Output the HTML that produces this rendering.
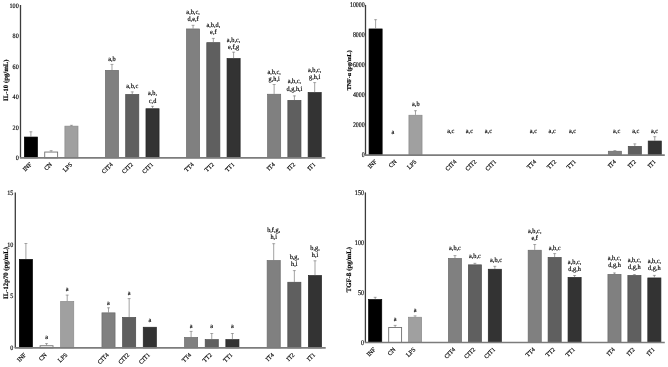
<!DOCTYPE html>
<html><head><meta charset="utf-8"><title>Cytokines</title>
<style>
html,body{margin:0;padding:0;background:#fff;}
body{width:668px;height:367px;overflow:hidden;}
svg{display:block;filter:blur(0.35px);}
text{font-family:"Liberation Serif",serif;text-rendering:geometricPrecision;fill:#000;stroke:#000;stroke-width:0.16px;}
</style></head><body>
<svg width="668" height="367" viewBox="0 0 668 367">
<rect width="668" height="367" fill="#fff"/>
<rect x="24.35" y="137.05" width="13.10" height="20.80" fill="#000000" stroke="#000000" stroke-width="0.7"/>
<line x1="30.90" y1="131.50" x2="30.90" y2="136.70" stroke="#7a7a7a" stroke-width="0.7"/>
<line x1="29.40" y1="131.80" x2="32.40" y2="131.80" stroke="#7a7a7a" stroke-width="0.6"/>
<text transform="translate(32.10,164.85) rotate(-45)" font-size="6.1" text-anchor="end">INF</text>
<rect x="44.72" y="152.05" width="12.90" height="5.80" fill="#fff" stroke="#707070" stroke-width="0.9"/>
<line x1="51.17" y1="150.40" x2="51.17" y2="151.60" stroke="#7a7a7a" stroke-width="0.7"/>
<line x1="49.67" y1="150.70" x2="52.67" y2="150.70" stroke="#7a7a7a" stroke-width="0.6"/>
<text transform="translate(52.37,164.85) rotate(-45)" font-size="6.1" text-anchor="end">CN</text>
<rect x="64.89" y="126.15" width="13.10" height="31.70" fill="#a0a0a0" stroke="#8a8a8a" stroke-width="0.7"/>
<line x1="71.44" y1="125.00" x2="71.44" y2="125.80" stroke="#7a7a7a" stroke-width="0.7"/>
<line x1="69.94" y1="125.30" x2="72.94" y2="125.30" stroke="#7a7a7a" stroke-width="0.6"/>
<text transform="translate(72.64,164.85) rotate(-45)" font-size="6.1" text-anchor="end">LPS</text>
<rect x="105.43" y="70.35" width="13.10" height="87.50" fill="#808080" stroke="#6a6a6a" stroke-width="0.7"/>
<line x1="111.98" y1="64.10" x2="111.98" y2="70.00" stroke="#7a7a7a" stroke-width="0.7"/>
<line x1="110.48" y1="64.40" x2="113.48" y2="64.40" stroke="#7a7a7a" stroke-width="0.6"/>
<text transform="translate(111.98,60.50) scale(0.92,1)" font-size="6.85" text-anchor="middle" >a,b</text>
<text transform="translate(113.18,164.85) rotate(-45)" font-size="6.1" text-anchor="end">CIT4</text>
<rect x="125.70" y="94.45" width="13.10" height="63.40" fill="#5f5f5f" stroke="#4c4c4c" stroke-width="0.7"/>
<line x1="132.25" y1="91.60" x2="132.25" y2="94.10" stroke="#7a7a7a" stroke-width="0.7"/>
<line x1="130.75" y1="91.90" x2="133.75" y2="91.90" stroke="#7a7a7a" stroke-width="0.6"/>
<text transform="translate(132.25,87.60) scale(0.92,1)" font-size="6.85" text-anchor="middle" >a,b,c</text>
<text transform="translate(133.45,164.85) rotate(-45)" font-size="6.1" text-anchor="end">CIT2</text>
<rect x="145.97" y="108.75" width="13.10" height="49.10" fill="#333333" stroke="#262626" stroke-width="0.7"/>
<line x1="152.52" y1="106.00" x2="152.52" y2="108.40" stroke="#7a7a7a" stroke-width="0.7"/>
<line x1="151.02" y1="106.30" x2="154.02" y2="106.30" stroke="#7a7a7a" stroke-width="0.6"/>
<text transform="translate(152.52,95.40) scale(0.92,1)" font-size="6.85" text-anchor="middle" >a,b,</text>
<text transform="translate(152.52,103.40) scale(0.92,1)" font-size="6.85" text-anchor="middle" >c,d</text>
<text transform="translate(153.72,164.85) rotate(-45)" font-size="6.1" text-anchor="end">CIT1</text>
<rect x="186.51" y="28.95" width="13.10" height="128.90" fill="#808080" stroke="#6a6a6a" stroke-width="0.7"/>
<line x1="193.06" y1="25.00" x2="193.06" y2="28.60" stroke="#7a7a7a" stroke-width="0.7"/>
<line x1="191.56" y1="25.30" x2="194.56" y2="25.30" stroke="#7a7a7a" stroke-width="0.6"/>
<text transform="translate(193.06,13.70) scale(0.92,1)" font-size="6.85" text-anchor="middle" >a,b,c,</text>
<text transform="translate(193.06,20.90) scale(0.92,1)" font-size="6.85" text-anchor="middle" >d,e,f</text>
<text transform="translate(194.26,164.85) rotate(-45)" font-size="6.1" text-anchor="end">TT4</text>
<rect x="206.78" y="42.65" width="13.10" height="115.20" fill="#5f5f5f" stroke="#4c4c4c" stroke-width="0.7"/>
<line x1="213.33" y1="38.10" x2="213.33" y2="42.30" stroke="#7a7a7a" stroke-width="0.7"/>
<line x1="211.83" y1="38.40" x2="214.83" y2="38.40" stroke="#7a7a7a" stroke-width="0.6"/>
<text transform="translate(213.33,26.90) scale(0.92,1)" font-size="6.85" text-anchor="middle" >a,b,d,</text>
<text transform="translate(213.33,34.30) scale(0.92,1)" font-size="6.85" text-anchor="middle" >e,f</text>
<text transform="translate(214.53,164.85) rotate(-45)" font-size="6.1" text-anchor="end">TT2</text>
<rect x="227.05" y="58.55" width="13.10" height="99.30" fill="#333333" stroke="#262626" stroke-width="0.7"/>
<line x1="233.60" y1="51.90" x2="233.60" y2="58.20" stroke="#7a7a7a" stroke-width="0.7"/>
<line x1="232.10" y1="52.20" x2="235.10" y2="52.20" stroke="#7a7a7a" stroke-width="0.6"/>
<text transform="translate(233.60,41.60) scale(0.92,1)" font-size="6.85" text-anchor="middle" >a,b,c,</text>
<text transform="translate(233.60,48.80) scale(0.92,1)" font-size="6.85" text-anchor="middle" >e,f,g</text>
<text transform="translate(234.80,164.85) rotate(-45)" font-size="6.1" text-anchor="end">TT1</text>
<rect x="267.59" y="94.25" width="13.10" height="63.60" fill="#808080" stroke="#6a6a6a" stroke-width="0.7"/>
<line x1="274.14" y1="84.20" x2="274.14" y2="93.90" stroke="#7a7a7a" stroke-width="0.7"/>
<line x1="272.64" y1="84.50" x2="275.64" y2="84.50" stroke="#7a7a7a" stroke-width="0.6"/>
<text transform="translate(274.14,73.50) scale(0.92,1)" font-size="6.85" text-anchor="middle" >a,b,c,</text>
<text transform="translate(274.14,80.70) scale(0.92,1)" font-size="6.85" text-anchor="middle" >g,h,i</text>
<text transform="translate(275.34,164.85) rotate(-45)" font-size="6.1" text-anchor="end">IT4</text>
<rect x="287.86" y="100.35" width="13.10" height="57.50" fill="#5f5f5f" stroke="#4c4c4c" stroke-width="0.7"/>
<line x1="294.41" y1="95.60" x2="294.41" y2="100.00" stroke="#7a7a7a" stroke-width="0.7"/>
<line x1="292.91" y1="95.90" x2="295.91" y2="95.90" stroke="#7a7a7a" stroke-width="0.6"/>
<text transform="translate(294.41,83.20) scale(0.92,1)" font-size="6.85" text-anchor="middle" >a,b,c,</text>
<text transform="translate(294.41,90.60) scale(0.92,1)" font-size="6.85" text-anchor="middle" >d,g,h,i</text>
<text transform="translate(295.61,164.85) rotate(-45)" font-size="6.1" text-anchor="end">IT2</text>
<rect x="308.13" y="92.55" width="13.10" height="65.30" fill="#333333" stroke="#262626" stroke-width="0.7"/>
<line x1="314.68" y1="82.30" x2="314.68" y2="92.20" stroke="#7a7a7a" stroke-width="0.7"/>
<line x1="313.18" y1="82.60" x2="316.18" y2="82.60" stroke="#7a7a7a" stroke-width="0.6"/>
<text transform="translate(314.68,71.80) scale(0.92,1)" font-size="6.85" text-anchor="middle" >a,b,c,</text>
<text transform="translate(314.68,79.20) scale(0.92,1)" font-size="6.85" text-anchor="middle" >g,h,i</text>
<text transform="translate(315.88,164.85) rotate(-45)" font-size="6.1" text-anchor="end">IT1</text>
<line x1="20.50" y1="5.00" x2="20.50" y2="157.85" stroke="#3c3c3c" stroke-width="1.3"/>
<line x1="19.90" y1="157.85" x2="325.30" y2="157.85" stroke="#7c7c7c" stroke-width="1.6"/>
<text transform="translate(18.70,160.13) scale(0.9,1)" font-size="6.8" text-anchor="end">0</text>
<text transform="translate(18.70,129.67) scale(0.9,1)" font-size="6.8" text-anchor="end">20</text>
<text transform="translate(18.70,99.21) scale(0.9,1)" font-size="6.8" text-anchor="end">40</text>
<text transform="translate(18.70,68.75) scale(0.9,1)" font-size="6.8" text-anchor="end">60</text>
<text transform="translate(18.70,38.29) scale(0.9,1)" font-size="6.8" text-anchor="end">80</text>
<text transform="translate(18.70,7.83) scale(0.9,1)" font-size="6.8" text-anchor="end">100</text>
<text transform="translate(6.60,80.20) rotate(-90)" font-size="6.75" font-weight="bold" text-anchor="middle" dominant-baseline="central">IL-10 (pg/mL)</text>
<rect x="369.05" y="28.95" width="13.10" height="126.15" fill="#000000" stroke="#000000" stroke-width="0.7"/>
<line x1="375.60" y1="19.40" x2="375.60" y2="28.60" stroke="#7a7a7a" stroke-width="0.7"/>
<line x1="374.10" y1="19.70" x2="377.10" y2="19.70" stroke="#7a7a7a" stroke-width="0.6"/>
<text transform="translate(377.10,162.10) rotate(-45)" font-size="6.1" text-anchor="end">INF</text>
<text transform="translate(393.00,134.30) scale(0.92,1)" font-size="6.85" text-anchor="middle" >a</text>
<text transform="translate(397.04,162.10) rotate(-45)" font-size="6.1" text-anchor="end">CN</text>
<rect x="408.93" y="115.25" width="13.10" height="39.85" fill="#a0a0a0" stroke="#8a8a8a" stroke-width="0.7"/>
<line x1="415.48" y1="110.40" x2="415.48" y2="114.90" stroke="#7a7a7a" stroke-width="0.7"/>
<line x1="413.98" y1="110.70" x2="416.98" y2="110.70" stroke="#7a7a7a" stroke-width="0.6"/>
<text transform="translate(415.80,105.50) scale(0.92,1)" font-size="6.85" text-anchor="middle" >a,b</text>
<text transform="translate(416.98,162.10) rotate(-45)" font-size="6.1" text-anchor="end">LPS</text>
<text transform="translate(450.80,132.50) scale(0.92,1)" font-size="6.85" text-anchor="middle" >a,c</text>
<text transform="translate(456.86,162.10) rotate(-45)" font-size="6.1" text-anchor="end">CIT4</text>
<text transform="translate(469.40,132.50) scale(0.92,1)" font-size="6.85" text-anchor="middle" >a,c</text>
<text transform="translate(476.80,162.10) rotate(-45)" font-size="6.1" text-anchor="end">CIT2</text>
<text transform="translate(488.40,132.50) scale(0.92,1)" font-size="6.85" text-anchor="middle" >a,c</text>
<text transform="translate(496.74,162.10) rotate(-45)" font-size="6.1" text-anchor="end">CIT1</text>
<text transform="translate(533.40,132.50) scale(0.92,1)" font-size="6.85" text-anchor="middle" >a,c</text>
<text transform="translate(536.62,162.10) rotate(-45)" font-size="6.1" text-anchor="end">TT4</text>
<text transform="translate(552.20,132.50) scale(0.92,1)" font-size="6.85" text-anchor="middle" >a,c</text>
<text transform="translate(556.56,162.10) rotate(-45)" font-size="6.1" text-anchor="end">TT2</text>
<text transform="translate(572.50,132.50) scale(0.92,1)" font-size="6.85" text-anchor="middle" >a,c</text>
<text transform="translate(576.50,162.10) rotate(-45)" font-size="6.1" text-anchor="end">TT1</text>
<rect x="608.33" y="151.25" width="13.10" height="3.85" fill="#808080" stroke="#6a6a6a" stroke-width="0.7"/>
<line x1="614.88" y1="150.30" x2="614.88" y2="150.90" stroke="#7a7a7a" stroke-width="0.7"/>
<line x1="613.38" y1="150.60" x2="616.38" y2="150.60" stroke="#7a7a7a" stroke-width="0.6"/>
<text transform="translate(616.70,132.50) scale(0.92,1)" font-size="6.85" text-anchor="middle" >a,c</text>
<text transform="translate(616.38,162.10) rotate(-45)" font-size="6.1" text-anchor="end">IT4</text>
<rect x="628.27" y="146.35" width="13.10" height="8.75" fill="#5f5f5f" stroke="#4c4c4c" stroke-width="0.7"/>
<line x1="634.82" y1="143.60" x2="634.82" y2="146.00" stroke="#7a7a7a" stroke-width="0.7"/>
<line x1="633.32" y1="143.90" x2="636.32" y2="143.90" stroke="#7a7a7a" stroke-width="0.6"/>
<text transform="translate(635.80,132.50) scale(0.92,1)" font-size="6.85" text-anchor="middle" >a,c</text>
<text transform="translate(636.32,162.10) rotate(-45)" font-size="6.1" text-anchor="end">IT2</text>
<rect x="648.21" y="141.05" width="13.10" height="14.05" fill="#333333" stroke="#262626" stroke-width="0.7"/>
<line x1="654.76" y1="136.40" x2="654.76" y2="140.70" stroke="#7a7a7a" stroke-width="0.7"/>
<line x1="653.26" y1="136.70" x2="656.26" y2="136.70" stroke="#7a7a7a" stroke-width="0.6"/>
<text transform="translate(654.50,132.50) scale(0.92,1)" font-size="6.85" text-anchor="middle" >a,c</text>
<text transform="translate(656.26,162.10) rotate(-45)" font-size="6.1" text-anchor="end">IT1</text>
<line x1="365.50" y1="4.90" x2="365.50" y2="155.10" stroke="#3c3c3c" stroke-width="1.3"/>
<line x1="364.90" y1="155.10" x2="664.80" y2="155.10" stroke="#7c7c7c" stroke-width="1.6"/>
<text transform="translate(364.70,157.48) scale(0.83,1)" font-size="7.1" text-anchor="end">0</text>
<text transform="translate(364.70,127.44) scale(0.83,1)" font-size="7.1" text-anchor="end">2000</text>
<text transform="translate(364.70,97.40) scale(0.83,1)" font-size="7.1" text-anchor="end">4000</text>
<text transform="translate(364.70,67.36) scale(0.83,1)" font-size="7.1" text-anchor="end">6000</text>
<text transform="translate(364.70,37.32) scale(0.83,1)" font-size="7.1" text-anchor="end">8000</text>
<text transform="translate(364.70,7.28) scale(0.83,1)" font-size="7.1" text-anchor="end">10000</text>
<text transform="translate(349.80,70.30) rotate(-90)" font-size="6.0" font-weight="bold" text-anchor="middle" dominant-baseline="central">TNF-α (pg/mL)</text>
<rect x="19.35" y="259.45" width="13.10" height="88.45" fill="#000000" stroke="#000000" stroke-width="0.7"/>
<line x1="25.90" y1="243.20" x2="25.90" y2="259.10" stroke="#7a7a7a" stroke-width="0.7"/>
<line x1="24.40" y1="243.50" x2="27.40" y2="243.50" stroke="#7a7a7a" stroke-width="0.6"/>
<text transform="translate(26.50,355.30) rotate(-45)" font-size="6.1" text-anchor="end">INF</text>
<rect x="40.10" y="345.75" width="12.90" height="2.15" fill="#fff" stroke="#707070" stroke-width="0.9"/>
<line x1="46.55" y1="343.30" x2="46.55" y2="345.30" stroke="#7a7a7a" stroke-width="0.7"/>
<line x1="45.05" y1="343.60" x2="48.05" y2="343.60" stroke="#7a7a7a" stroke-width="0.6"/>
<text transform="translate(46.55,339.40) scale(0.92,1)" font-size="6.85" text-anchor="middle" >a</text>
<text transform="translate(47.15,355.30) rotate(-45)" font-size="6.1" text-anchor="end">CN</text>
<rect x="60.65" y="301.45" width="13.10" height="46.45" fill="#a0a0a0" stroke="#8a8a8a" stroke-width="0.7"/>
<line x1="67.20" y1="294.80" x2="67.20" y2="301.10" stroke="#7a7a7a" stroke-width="0.7"/>
<line x1="65.70" y1="295.10" x2="68.70" y2="295.10" stroke="#7a7a7a" stroke-width="0.6"/>
<text transform="translate(67.20,291.10) scale(0.92,1)" font-size="6.85" text-anchor="middle" >a</text>
<text transform="translate(67.80,355.30) rotate(-45)" font-size="6.1" text-anchor="end">LPS</text>
<rect x="101.95" y="312.85" width="13.10" height="35.05" fill="#808080" stroke="#6a6a6a" stroke-width="0.7"/>
<line x1="108.50" y1="307.50" x2="108.50" y2="312.50" stroke="#7a7a7a" stroke-width="0.7"/>
<line x1="107.00" y1="307.80" x2="110.00" y2="307.80" stroke="#7a7a7a" stroke-width="0.6"/>
<text transform="translate(108.50,304.50) scale(0.92,1)" font-size="6.85" text-anchor="middle" >a</text>
<text transform="translate(109.10,355.30) rotate(-45)" font-size="6.1" text-anchor="end">CIT4</text>
<rect x="122.60" y="317.45" width="13.10" height="30.45" fill="#5f5f5f" stroke="#4c4c4c" stroke-width="0.7"/>
<line x1="129.15" y1="298.30" x2="129.15" y2="317.10" stroke="#7a7a7a" stroke-width="0.7"/>
<line x1="127.65" y1="298.60" x2="130.65" y2="298.60" stroke="#7a7a7a" stroke-width="0.6"/>
<text transform="translate(129.15,294.50) scale(0.92,1)" font-size="6.85" text-anchor="middle" >a</text>
<text transform="translate(129.75,355.30) rotate(-45)" font-size="6.1" text-anchor="end">CIT2</text>
<rect x="143.25" y="327.25" width="13.10" height="20.65" fill="#333333" stroke="#262626" stroke-width="0.7"/>
<text transform="translate(149.80,321.90) scale(0.92,1)" font-size="6.85" text-anchor="middle" >a</text>
<text transform="translate(150.40,355.30) rotate(-45)" font-size="6.1" text-anchor="end">CIT1</text>
<rect x="184.55" y="337.45" width="13.10" height="10.45" fill="#808080" stroke="#6a6a6a" stroke-width="0.7"/>
<line x1="191.10" y1="331.10" x2="191.10" y2="337.10" stroke="#7a7a7a" stroke-width="0.7"/>
<line x1="189.60" y1="331.40" x2="192.60" y2="331.40" stroke="#7a7a7a" stroke-width="0.6"/>
<text transform="translate(191.10,328.00) scale(0.92,1)" font-size="6.85" text-anchor="middle" >a</text>
<text transform="translate(191.70,355.30) rotate(-45)" font-size="6.1" text-anchor="end">TT4</text>
<rect x="205.20" y="339.65" width="13.10" height="8.25" fill="#5f5f5f" stroke="#4c4c4c" stroke-width="0.7"/>
<line x1="211.75" y1="333.20" x2="211.75" y2="339.30" stroke="#7a7a7a" stroke-width="0.7"/>
<line x1="210.25" y1="333.50" x2="213.25" y2="333.50" stroke="#7a7a7a" stroke-width="0.6"/>
<text transform="translate(211.75,328.00) scale(0.92,1)" font-size="6.85" text-anchor="middle" >a</text>
<text transform="translate(212.35,355.30) rotate(-45)" font-size="6.1" text-anchor="end">TT2</text>
<rect x="225.85" y="339.65" width="13.10" height="8.25" fill="#333333" stroke="#262626" stroke-width="0.7"/>
<line x1="232.40" y1="333.20" x2="232.40" y2="339.30" stroke="#7a7a7a" stroke-width="0.7"/>
<line x1="230.90" y1="333.50" x2="233.90" y2="333.50" stroke="#7a7a7a" stroke-width="0.6"/>
<text transform="translate(232.40,328.00) scale(0.92,1)" font-size="6.85" text-anchor="middle" >a</text>
<text transform="translate(233.00,355.30) rotate(-45)" font-size="6.1" text-anchor="end">TT1</text>
<rect x="267.15" y="260.55" width="13.10" height="87.35" fill="#808080" stroke="#6a6a6a" stroke-width="0.7"/>
<line x1="273.70" y1="243.40" x2="273.70" y2="260.20" stroke="#7a7a7a" stroke-width="0.7"/>
<line x1="272.20" y1="243.70" x2="275.20" y2="243.70" stroke="#7a7a7a" stroke-width="0.6"/>
<text transform="translate(273.70,232.20) scale(0.92,1)" font-size="6.85" text-anchor="middle" >b,f,g,</text>
<text transform="translate(273.70,239.10) scale(0.92,1)" font-size="6.85" text-anchor="middle" >h,i</text>
<text transform="translate(274.30,355.30) rotate(-45)" font-size="6.1" text-anchor="end">IT4</text>
<rect x="287.80" y="282.25" width="13.10" height="65.65" fill="#5f5f5f" stroke="#4c4c4c" stroke-width="0.7"/>
<line x1="294.35" y1="270.30" x2="294.35" y2="281.90" stroke="#7a7a7a" stroke-width="0.7"/>
<line x1="292.85" y1="270.60" x2="295.85" y2="270.60" stroke="#7a7a7a" stroke-width="0.6"/>
<text transform="translate(294.35,259.10) scale(0.92,1)" font-size="6.85" text-anchor="middle" >b,g,</text>
<text transform="translate(294.35,266.40) scale(0.92,1)" font-size="6.85" text-anchor="middle" >h,i</text>
<text transform="translate(294.95,355.30) rotate(-45)" font-size="6.1" text-anchor="end">IT2</text>
<rect x="308.45" y="275.55" width="13.10" height="72.35" fill="#333333" stroke="#262626" stroke-width="0.7"/>
<line x1="315.00" y1="260.50" x2="315.00" y2="275.20" stroke="#7a7a7a" stroke-width="0.7"/>
<line x1="313.50" y1="260.80" x2="316.50" y2="260.80" stroke="#7a7a7a" stroke-width="0.6"/>
<text transform="translate(315.00,249.60) scale(0.92,1)" font-size="6.85" text-anchor="middle" >b,g,</text>
<text transform="translate(315.00,256.80) scale(0.92,1)" font-size="6.85" text-anchor="middle" >h,i</text>
<text transform="translate(315.60,355.30) rotate(-45)" font-size="6.1" text-anchor="end">IT1</text>
<line x1="15.30" y1="192.40" x2="15.30" y2="347.90" stroke="#3c3c3c" stroke-width="1.3"/>
<line x1="14.70" y1="347.90" x2="325.70" y2="347.90" stroke="#7c7c7c" stroke-width="1.6"/>
<text transform="translate(13.40,350.18) scale(0.9,1)" font-size="6.8" text-anchor="end">0</text>
<text transform="translate(13.40,298.43) scale(0.9,1)" font-size="6.8" text-anchor="end">5</text>
<text transform="translate(13.40,246.68) scale(0.9,1)" font-size="6.8" text-anchor="end">10</text>
<text transform="translate(13.40,194.93) scale(0.9,1)" font-size="6.8" text-anchor="end">15</text>
<text transform="translate(6.50,273.00) rotate(-90)" font-size="6.75" font-weight="bold" text-anchor="middle" dominant-baseline="central">IL-12p70 (pg/mL)</text>
<rect x="368.65" y="299.55" width="13.10" height="42.95" fill="#000000" stroke="#000000" stroke-width="0.7"/>
<line x1="375.20" y1="297.00" x2="375.20" y2="299.20" stroke="#7a7a7a" stroke-width="0.7"/>
<line x1="373.70" y1="297.30" x2="376.70" y2="297.30" stroke="#7a7a7a" stroke-width="0.6"/>
<text transform="translate(376.00,349.90) rotate(-45)" font-size="6.1" text-anchor="end">INF</text>
<rect x="388.69" y="327.55" width="12.90" height="14.95" fill="#fff" stroke="#707070" stroke-width="0.9"/>
<line x1="395.14" y1="325.10" x2="395.14" y2="327.10" stroke="#7a7a7a" stroke-width="0.7"/>
<line x1="393.64" y1="325.40" x2="396.64" y2="325.40" stroke="#7a7a7a" stroke-width="0.6"/>
<text transform="translate(395.14,321.40) scale(0.92,1)" font-size="6.85" text-anchor="middle" >a</text>
<text transform="translate(395.94,349.90) rotate(-45)" font-size="6.1" text-anchor="end">CN</text>
<rect x="408.53" y="317.25" width="13.10" height="25.25" fill="#a0a0a0" stroke="#8a8a8a" stroke-width="0.7"/>
<line x1="415.08" y1="315.60" x2="415.08" y2="316.90" stroke="#7a7a7a" stroke-width="0.7"/>
<line x1="413.58" y1="315.90" x2="416.58" y2="315.90" stroke="#7a7a7a" stroke-width="0.6"/>
<text transform="translate(415.08,311.80) scale(0.92,1)" font-size="6.85" text-anchor="middle" >a</text>
<text transform="translate(415.88,349.90) rotate(-45)" font-size="6.1" text-anchor="end">LPS</text>
<rect x="448.41" y="258.45" width="13.10" height="84.05" fill="#808080" stroke="#6a6a6a" stroke-width="0.7"/>
<line x1="454.96" y1="255.30" x2="454.96" y2="258.10" stroke="#7a7a7a" stroke-width="0.7"/>
<line x1="453.46" y1="255.60" x2="456.46" y2="255.60" stroke="#7a7a7a" stroke-width="0.6"/>
<text transform="translate(454.96,250.10) scale(0.92,1)" font-size="6.85" text-anchor="middle" >a,b,c</text>
<text transform="translate(455.76,349.90) rotate(-45)" font-size="6.1" text-anchor="end">CIT4</text>
<rect x="468.35" y="264.85" width="13.10" height="77.65" fill="#5f5f5f" stroke="#4c4c4c" stroke-width="0.7"/>
<line x1="474.90" y1="263.00" x2="474.90" y2="264.50" stroke="#7a7a7a" stroke-width="0.7"/>
<line x1="473.40" y1="263.30" x2="476.40" y2="263.30" stroke="#7a7a7a" stroke-width="0.6"/>
<text transform="translate(474.90,257.50) scale(0.92,1)" font-size="6.85" text-anchor="middle" >a,b,c</text>
<text transform="translate(475.70,349.90) rotate(-45)" font-size="6.1" text-anchor="end">CIT2</text>
<rect x="488.29" y="269.25" width="13.10" height="73.25" fill="#333333" stroke="#262626" stroke-width="0.7"/>
<line x1="494.84" y1="266.00" x2="494.84" y2="268.90" stroke="#7a7a7a" stroke-width="0.7"/>
<line x1="493.34" y1="266.30" x2="496.34" y2="266.30" stroke="#7a7a7a" stroke-width="0.6"/>
<text transform="translate(496.00,261.70) scale(0.92,1)" font-size="6.85" text-anchor="middle" >a,b,c</text>
<text transform="translate(495.64,349.90) rotate(-45)" font-size="6.1" text-anchor="end">CIT1</text>
<rect x="528.17" y="250.25" width="13.10" height="92.25" fill="#808080" stroke="#6a6a6a" stroke-width="0.7"/>
<line x1="534.72" y1="244.20" x2="534.72" y2="249.90" stroke="#7a7a7a" stroke-width="0.7"/>
<line x1="533.22" y1="244.50" x2="536.22" y2="244.50" stroke="#7a7a7a" stroke-width="0.6"/>
<text transform="translate(534.72,233.20) scale(0.92,1)" font-size="6.85" text-anchor="middle" >a,b,c,</text>
<text transform="translate(534.72,240.40) scale(0.92,1)" font-size="6.85" text-anchor="middle" >e,f</text>
<text transform="translate(535.52,349.90) rotate(-45)" font-size="6.1" text-anchor="end">TT4</text>
<rect x="548.11" y="257.45" width="13.10" height="85.05" fill="#5f5f5f" stroke="#4c4c4c" stroke-width="0.7"/>
<line x1="554.66" y1="253.30" x2="554.66" y2="257.10" stroke="#7a7a7a" stroke-width="0.7"/>
<line x1="553.16" y1="253.60" x2="556.16" y2="253.60" stroke="#7a7a7a" stroke-width="0.6"/>
<text transform="translate(554.66,250.40) scale(0.92,1)" font-size="6.85" text-anchor="middle" >a,b,c</text>
<text transform="translate(555.46,349.90) rotate(-45)" font-size="6.1" text-anchor="end">TT2</text>
<rect x="568.05" y="277.45" width="13.10" height="65.05" fill="#333333" stroke="#262626" stroke-width="0.7"/>
<line x1="574.60" y1="275.20" x2="574.60" y2="277.10" stroke="#7a7a7a" stroke-width="0.7"/>
<line x1="573.10" y1="275.50" x2="576.10" y2="275.50" stroke="#7a7a7a" stroke-width="0.6"/>
<text transform="translate(574.60,264.00) scale(0.92,1)" font-size="6.85" text-anchor="middle" >a,b,c,</text>
<text transform="translate(574.60,271.30) scale(0.92,1)" font-size="6.85" text-anchor="middle" >d,g,h</text>
<text transform="translate(575.40,349.90) rotate(-45)" font-size="6.1" text-anchor="end">TT1</text>
<rect x="607.93" y="274.35" width="13.10" height="68.15" fill="#808080" stroke="#6a6a6a" stroke-width="0.7"/>
<line x1="614.48" y1="272.70" x2="614.48" y2="274.00" stroke="#7a7a7a" stroke-width="0.7"/>
<line x1="612.98" y1="273.00" x2="615.98" y2="273.00" stroke="#7a7a7a" stroke-width="0.6"/>
<text transform="translate(614.48,259.60) scale(0.92,1)" font-size="6.85" text-anchor="middle" >a,b,c,</text>
<text transform="translate(614.48,266.50) scale(0.92,1)" font-size="6.85" text-anchor="middle" >d,g,h</text>
<text transform="translate(615.28,349.90) rotate(-45)" font-size="6.1" text-anchor="end">IT4</text>
<rect x="627.87" y="275.45" width="13.10" height="67.05" fill="#5f5f5f" stroke="#4c4c4c" stroke-width="0.7"/>
<line x1="634.42" y1="274.30" x2="634.42" y2="275.10" stroke="#7a7a7a" stroke-width="0.7"/>
<line x1="632.92" y1="274.60" x2="635.92" y2="274.60" stroke="#7a7a7a" stroke-width="0.6"/>
<text transform="translate(634.42,262.00) scale(0.92,1)" font-size="6.85" text-anchor="middle" >a,b,c,</text>
<text transform="translate(634.42,269.10) scale(0.92,1)" font-size="6.85" text-anchor="middle" >d,g,h</text>
<text transform="translate(635.22,349.90) rotate(-45)" font-size="6.1" text-anchor="end">IT2</text>
<rect x="647.81" y="277.95" width="13.10" height="64.55" fill="#333333" stroke="#262626" stroke-width="0.7"/>
<line x1="654.36" y1="275.10" x2="654.36" y2="277.60" stroke="#7a7a7a" stroke-width="0.7"/>
<line x1="652.86" y1="275.40" x2="655.86" y2="275.40" stroke="#7a7a7a" stroke-width="0.6"/>
<text transform="translate(654.36,263.20) scale(0.92,1)" font-size="6.85" text-anchor="middle" >a,b,c,</text>
<text transform="translate(654.36,270.20) scale(0.92,1)" font-size="6.85" text-anchor="middle" >d,g,h</text>
<text transform="translate(655.16,349.90) rotate(-45)" font-size="6.1" text-anchor="end">IT1</text>
<line x1="365.40" y1="192.40" x2="365.40" y2="342.50" stroke="#3c3c3c" stroke-width="1.3"/>
<line x1="364.80" y1="342.50" x2="664.80" y2="342.50" stroke="#7c7c7c" stroke-width="1.6"/>
<text transform="translate(364.00,344.88) scale(0.86,1)" font-size="7.1" text-anchor="end">0</text>
<text transform="translate(364.00,294.88) scale(0.86,1)" font-size="7.1" text-anchor="end">50</text>
<text transform="translate(364.00,244.88) scale(0.86,1)" font-size="7.1" text-anchor="end">100</text>
<text transform="translate(364.00,194.88) scale(0.86,1)" font-size="7.1" text-anchor="end">150</text>
<text transform="translate(349.80,269.70) rotate(-90)" font-size="6.75" font-weight="bold" text-anchor="middle" dominant-baseline="central">TGF-ß (pg/mL)</text>
</svg>
</body></html>
